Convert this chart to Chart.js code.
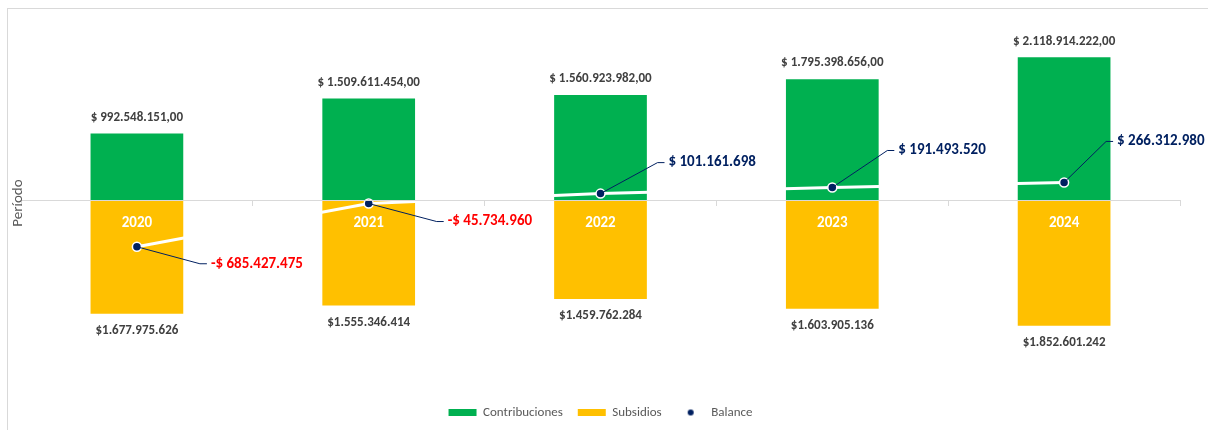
<!DOCTYPE html>
<html lang="es">
<head>
<meta charset="utf-8">
<title>Contribuciones vs Subsidios</title>
<script src="https://cdn.jsdelivr.net/npm/chart.js@4"></script>
<style>
  html, body { margin: 0; padding: 0; background: #fff; }
  #wrap { position: relative; width: 1208px; height: 430px; }
  #marco { position: absolute; left: 7px; top: 8px; right: -2px; bottom: -2px; border: 1px solid #d9d9d9; }
  canvas { position: absolute; left: 0; top: 0; }
</style>
</head>
<body>
<div id="wrap">
  <div id="marco"></div>
  <canvas id="grafico" width="1208" height="430"></canvas>
</div>
<script>
// Datos
const periodos = ["2020", "2021", "2022", "2023", "2024"];
const contribuciones = [992548151, 1509611454, 1560923982, 1795398656, 2118914222];
const subsidios = [1677975626, 1555346414, 1459762284, 1603905136, 1852601242];
const balance = [-685427475, -45734960, 101161698, 191493520, 266312980];

// Desplazamiento de las etiquetas del balance respecto al punto (solo estilo)
const desplazBalance = [[74, 17], [79, 18], [68, -31], [66, -37], [53, -41]];

const FUENTE = "Carlito, Calibri, Lato, 'Open Sans', sans-serif";

// Formato con puntos de miles
function miles(n) {
  return Math.abs(n).toFixed(0).replace(/\B(?=(\d{3})+(?!\d))/g, ".");
}

// Etiquetas de valores dibujadas a mano
const etiquetas = {
  id: "etiquetas",
  afterDraw(chart) {
    const ctx = chart.ctx;
    ctx.save();
    ctx.textBaseline = "middle";

    // Contribuciones (encima de la barra)
    const m0 = chart.getDatasetMeta(0);
    ctx.font = "bold 13px " + FUENTE;
    ctx.fillStyle = "#404040";
    ctx.textAlign = "center";
    m0.data.forEach((bar, i) => {
      ctx.fillText("$ " + miles(contribuciones[i]) + ",00", bar.x, bar.y - 16);
    });

    // Subsidios (debajo de la barra)
    const m1 = chart.getDatasetMeta(1);
    m1.data.forEach((bar, i) => {
      ctx.fillText("$" + miles(subsidios[i]), bar.x, bar.y + 17);
    });

    // Balance con línea guía
    const m2 = chart.getDatasetMeta(2);
    ctx.font = "bold 15px " + FUENTE;
    ctx.textAlign = "left";
    m2.data.forEach((pt, i) => {
      const [dx, dy] = desplazBalance[i];
      const lx = pt.x + dx, ly = pt.y + dy;
      ctx.strokeStyle = "#002060";
      ctx.lineWidth = 1;
      ctx.beginPath();
      ctx.moveTo(pt.x, pt.y);
      ctx.lineTo(lx - 11, ly);
      ctx.lineTo(lx - 4, ly);
      ctx.stroke();
      const neg = balance[i] < 0;
      ctx.fillStyle = neg ? "#ff0000" : "#002060";
      ctx.fillText((neg ? "-$ " : "$ ") + miles(balance[i]), lx, ly);
    });

    // Título del eje
    ctx.translate(18, 203);
    ctx.rotate(-Math.PI / 2);
    ctx.textAlign = "center";
    ctx.font = "15px " + FUENTE;
    ctx.fillStyle = "#595959";
    ctx.fillText("Período", 0, 0);
    ctx.restore();
  }
};

// Marcador del balance para la leyenda
const punto = document.createElement("canvas");
punto.width = 8; punto.height = 8;
(function () {
  const c = punto.getContext("2d");
  c.fillStyle = "#002060";
  c.beginPath();
  c.arc(4, 4, 3, 0, Math.PI * 2);
  c.fill();
})();

Chart.defaults.font.family = FUENTE;

new Chart(document.getElementById("grafico"), {
  type: "bar",
  data: {
    labels: periodos,
    datasets: [
      {
        label: "Contribuciones",
        data: contribuciones,
        backgroundColor: "#00b050",
        barPercentage: 0.4,
        categoryPercentage: 1,
        stack: "s",
        order: 2
      },
      {
        label: "Subsidios",
        data: subsidios.map(v => -v),
        backgroundColor: "#ffc000",
        barPercentage: 0.4,
        categoryPercentage: 1,
        stack: "s",
        order: 1
      },
      {
        type: "line",
        label: "Balance",
        data: balance,
        stack: "b",
        borderColor: "#ffffff",
        borderWidth: 3,
        pointRadius: 4.5,
        pointBackgroundColor: "#002060",
        pointBorderColor: "#ffffff",
        pointBorderWidth: 1.5,
        order: 0
      }
    ]
  },
  options: {
    responsive: false,
    animation: false,
    layout: { padding: { left: 21, right: 28, top: 18, bottom: 1 } },
    plugins: {
      tooltip: { enabled: false },
      legend: {
        position: "bottom",
        labels: {
          color: "#595959",
          font: { size: 13 },
          usePointStyle: true,
          pointStyleWidth: 28,
          boxHeight: 7,
          padding: 15,
          generateLabels(chart) {
            return chart.data.datasets.map((ds, i) => ({
              text: ds.label,
              fillStyle: ds.backgroundColor,
              strokeStyle: ds.backgroundColor,
              lineWidth: 0,
              pointStyle: i === 2 ? punto : "rect",
              fontColor: "#595959",
              datasetIndex: i,
              hidden: false
            }));
          }
        }
      }
    },
    scales: {
      x: {
        stacked: true,
        position: { y: 0 },
        grid: {
          offset: true,
          drawOnChartArea: false,
          drawTicks: true,
          tickLength: 5,
          color: "#d9d9d9"
        },
        border: { display: true, color: "#d9d9d9", width: 1, z: 1 },
        ticks: {
          z: 1,
          color: "#ffffff",
          font: { size: 15, weight: "bold" },
          padding: 9
        }
      },
      y: {
        display: false,
        stacked: true,
        min: -2820000000,
        max: 2700000000
      }
    }
  },
  plugins: [etiquetas]
});
</script>
</body>
</html>
